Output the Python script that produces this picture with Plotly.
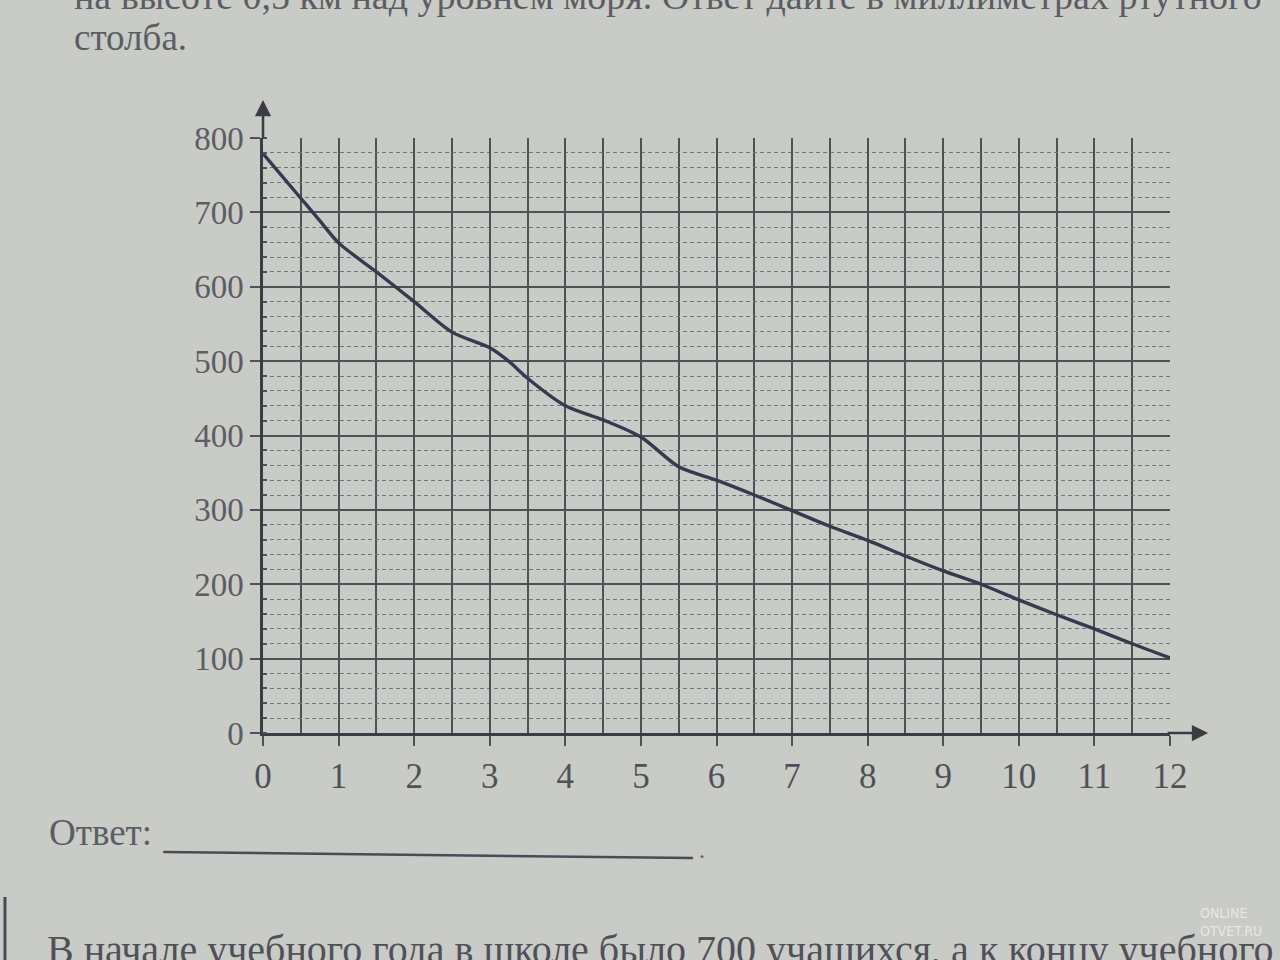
import plotly.graph_objects as go

# Data
heights_km = [0, 0.5, 0.75, 1, 1.5, 2, 2.5, 3, 3.25, 3.5, 4, 4.5, 5, 5.5, 6, 6.5, 7,
              7.5, 8, 8.5, 9, 9.5, 10, 10.5, 11, 11.5, 12]
pressure_mm = [779, 719, 689, 659, 620, 580, 539, 518, 500, 477, 440, 421, 398, 358, 340,
               320, 299, 278, 259, 238, 218, 200, 179, 159, 140, 120, 101]
x_ticks = list(range(0, 13))
y_ticks = list(range(0, 801, 100))

BG = "#c9cbc6"
GRID = "#505157"
TXT = "#5c5d64"
LINE = "#38384f"
FONT = "Liberation Serif"

fig = go.Figure()
fig.add_trace(go.Scatter(
    x=heights_km, y=pressure_mm, mode="lines",
    line=dict(color=LINE, width=3.4, shape="spline", smoothing=0.8),
    showlegend=False, hoverinfo="skip"))

fig.update_layout(
    width=1280, height=960,
    paper_bgcolor=BG, plot_bgcolor=BG,
    margin=dict(l=263, r=110, t=138, b=227),
    font=dict(family=FONT, color=TXT, size=33),
    xaxis=dict(
        range=[0, 12], tickvals=x_ticks, ticktext=[str(v) for v in x_ticks],
        showgrid=True, gridcolor=GRID, gridwidth=1.7,
        minor=dict(dtick=0.5, showgrid=True, gridcolor=GRID, gridwidth=1.7),
        showline=True, linecolor="#3c3d44", linewidth=2.5,
        ticks="outside", ticklen=10, tickwidth=1.6, tickcolor=GRID,
        tickfont=dict(family=FONT, size=35, color="#4f5058"),
        zeroline=False, fixedrange=True),
    yaxis=dict(
        range=[0, 800], tickvals=y_ticks, ticktext=[str(v) for v in y_ticks],
        showgrid=True, gridcolor=GRID, gridwidth=1.7,
        minor=dict(dtick=20, showgrid=True, gridcolor="#72737a", gridwidth=1,
                   griddash="4px,3px", ticks="inside", ticklen=4, tickcolor=GRID),
        showline=True, linecolor="#3c3d44", linewidth=2.5,
        ticks="outside", ticklen=10, tickwidth=1.6, tickcolor=GRID,
        tickfont=dict(family=FONT, size=33, color=TXT),
        zeroline=False, fixedrange=True),
)

# axis arrows
fig.add_annotation(xref="x", yref="paper", x=0, y=1.064, ax=0, ay=40,
                   showarrow=True, arrowhead=2, arrowsize=1.3, arrowwidth=2.5,
                   arrowcolor="#3c3d44", text="")
fig.add_annotation(xref="paper", yref="paper", x=1.042, y=0, ax=-42, ay=0,
                   showarrow=True, arrowhead=2, arrowsize=1.3, arrowwidth=2.5,
                   arrowcolor="#3c3d44", text="")

# surrounding page text
fig.add_annotation(xref="paper", yref="paper", x=-0.2106, y=1.2387, xanchor="left", yanchor="middle",
                   text="на высоте 0,5 км над уровнем моря. Ответ дайте в миллиметрах ртутного",
                   showarrow=False, font=dict(family=FONT, size=38, color=TXT))
fig.add_annotation(xref="paper", yref="paper", x=-0.2106, y=1.1681, xanchor="left", yanchor="middle",
                   text="столба.", showarrow=False, font=dict(family=FONT, size=37, color=TXT))
fig.add_annotation(xref="paper", yref="paper", x=-0.238, y=-0.168, xanchor="left", yanchor="middle",
                   text="Ответ:", showarrow=False, font=dict(family=FONT, size=37, color=TXT))
fig.add_shape(type="line", xref="paper", yref="paper", x0=-0.110, x1=0.474, y0=-0.200, y1=-0.2101,
              line=dict(color="#4a4b55", width=2.5))
fig.add_annotation(xref="paper", yref="paper", x=0.4785, y=-0.196, xanchor="left", yanchor="middle",
                   text=".", showarrow=False, font=dict(family=FONT, size=24, color=TXT))
fig.add_annotation(xref="paper", yref="paper", x=-0.240, y=-0.3647, xanchor="left", yanchor="middle",
                   text="В начале учебного года в школе было 700 учащихся, а к концу учебного",
                   showarrow=False, font=dict(family=FONT, size=40, color="#4f5058"))
fig.add_shape(type="line", xref="paper", yref="paper", x0=-0.2845, x1=-0.2845, y0=-0.2756, y1=-0.3815,
              line=dict(color="#4a4b55", width=3))
fig.add_annotation(xref="paper", yref="paper", x=1.031, y=-0.3176, xanchor="left", yanchor="middle",
                   text="ONLINE<br>OTVET.RU", showarrow=False, align="left",
                   font=dict(family="DejaVu Sans Condensed", size=14, color="#e6e7e4"))

fig.write_html("out.html", config={"displayModeBar": False},
               post_script="document.body.style.margin='0';"
                           "document.body.style.background='#c9cbc6';")
